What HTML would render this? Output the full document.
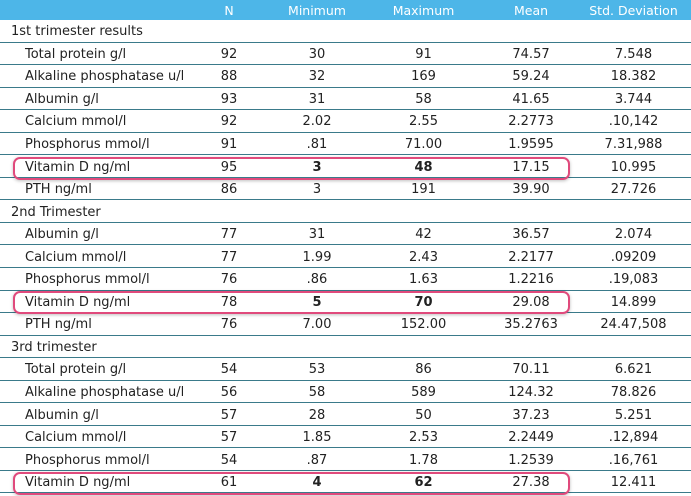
<!DOCTYPE html>
<html><head><style>
*{box-sizing:border-box}
body{margin:0;width:691px;height:496px;overflow:hidden;background:#fff;font-family:"DejaVu Sans","Liberation Sans",sans-serif;font-size:13px;color:#222;position:relative}
.r{display:flex;height:22.55px;border-bottom:1px solid #3a7a8a;align-items:center;padding-top:2px}
.h{display:flex;height:20px;background:#4db6e8;color:#fff;font-size:12.5px;align-items:center}
.r span,.h span{text-align:center}
.c0{width:185px;text-align:left!important;padding-left:25px}
.c1,.c2{width:88px}.c3{width:125px}.c4{width:90px}.c5{width:115px}
.s{padding-left:11px}
b{font-weight:bold}
.box{position:absolute;left:13px;width:557px;height:23px;border:2px solid #e04a7c;border-radius:7px;box-shadow:0 1px 3px rgba(0,0,0,.25)}
</style></head><body>
<div class="h"><span class="c0"></span><span class="c1">N</span><span class="c2">Minimum</span><span class="c3">Maximum</span><span class="c4">Mean</span><span class="c5">Std. Deviation</span></div>
<div class="r"><span class="s">1st trimester results</span></div>
<div class="r"><span class="c0">Total protein g/l</span><span class="c1">92</span><span class="c2">30</span><span class="c3">91</span><span class="c4">74.57</span><span class="c5">7.548</span></div>
<div class="r"><span class="c0">Alkaline phosphatase u/l</span><span class="c1">88</span><span class="c2">32</span><span class="c3">169</span><span class="c4">59.24</span><span class="c5">18.382</span></div>
<div class="r"><span class="c0">Albumin g/l</span><span class="c1">93</span><span class="c2">31</span><span class="c3">58</span><span class="c4">41.65</span><span class="c5">3.744</span></div>
<div class="r"><span class="c0">Calcium mmol/l</span><span class="c1">92</span><span class="c2">2.02</span><span class="c3">2.55</span><span class="c4">2.2773</span><span class="c5">.10,142</span></div>
<div class="r"><span class="c0">Phosphorus mmol/l</span><span class="c1">91</span><span class="c2">.81</span><span class="c3">71.00</span><span class="c4">1.9595</span><span class="c5">7.31,988</span></div>
<div class="r"><span class="c0">Vitamin D ng/ml</span><span class="c1">95</span><span class="c2"><b>3</b></span><span class="c3"><b>48</b></span><span class="c4">17.15</span><span class="c5">10.995</span></div>
<div class="r"><span class="c0">PTH ng/ml</span><span class="c1">86</span><span class="c2">3</span><span class="c3">191</span><span class="c4">39.90</span><span class="c5">27.726</span></div>
<div class="r"><span class="s">2nd Trimester</span></div>
<div class="r"><span class="c0">Albumin g/l</span><span class="c1">77</span><span class="c2">31</span><span class="c3">42</span><span class="c4">36.57</span><span class="c5">2.074</span></div>
<div class="r"><span class="c0">Calcium mmol/l</span><span class="c1">77</span><span class="c2">1.99</span><span class="c3">2.43</span><span class="c4">2.2177</span><span class="c5">.09209</span></div>
<div class="r"><span class="c0">Phosphorus mmol/l</span><span class="c1">76</span><span class="c2">.86</span><span class="c3">1.63</span><span class="c4">1.2216</span><span class="c5">.19,083</span></div>
<div class="r"><span class="c0">Vitamin D ng/ml</span><span class="c1">78</span><span class="c2"><b>5</b></span><span class="c3"><b>70</b></span><span class="c4">29.08</span><span class="c5">14.899</span></div>
<div class="r"><span class="c0">PTH ng/ml</span><span class="c1">76</span><span class="c2">7.00</span><span class="c3">152.00</span><span class="c4">35.2763</span><span class="c5">24.47,508</span></div>
<div class="r"><span class="s">3rd trimester</span></div>
<div class="r"><span class="c0">Total protein g/l</span><span class="c1">54</span><span class="c2">53</span><span class="c3">86</span><span class="c4">70.11</span><span class="c5">6.621</span></div>
<div class="r"><span class="c0">Alkaline phosphatase u/l</span><span class="c1">56</span><span class="c2">58</span><span class="c3">589</span><span class="c4">124.32</span><span class="c5">78.826</span></div>
<div class="r"><span class="c0">Albumin g/l</span><span class="c1">57</span><span class="c2">28</span><span class="c3">50</span><span class="c4">37.23</span><span class="c5">5.251</span></div>
<div class="r"><span class="c0">Calcium mmol/l</span><span class="c1">57</span><span class="c2">1.85</span><span class="c3">2.53</span><span class="c4">2.2449</span><span class="c5">.12,894</span></div>
<div class="r"><span class="c0">Phosphorus mmol/l</span><span class="c1">54</span><span class="c2">.87</span><span class="c3">1.78</span><span class="c4">1.2539</span><span class="c5">.16,761</span></div>
<div class="r"><span class="c0">Vitamin D ng/ml</span><span class="c1">61</span><span class="c2"><b>4</b></span><span class="c3"><b>62</b></span><span class="c4">27.38</span><span class="c5">12.411</span></div>
<div class="box" style="top:157px"></div>
<div class="box" style="top:291px"></div>
<div class="box" style="top:472px"></div>
</body></html>
